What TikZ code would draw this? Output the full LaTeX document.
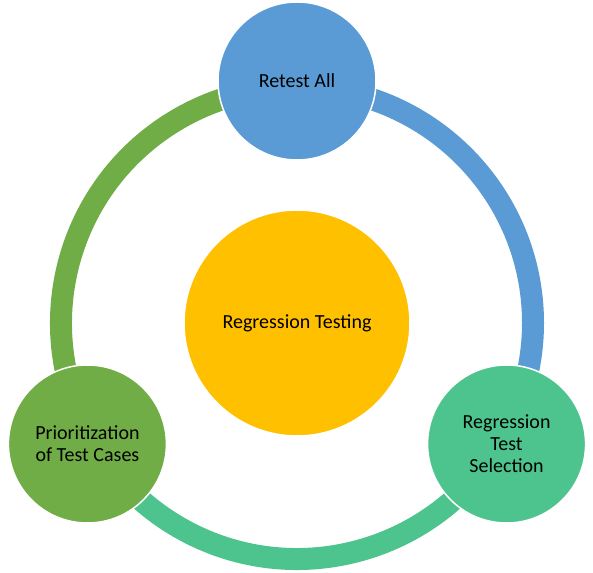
\documentclass[tikz,border=0pt]{standalone}
\usepackage{fontspec}
\setmainfont{Carlito}
\usepackage{xcolor}
\definecolor{retestblue}{HTML}{5B9BD5}
\definecolor{selectgreen}{HTML}{4DC48D}
\definecolor{priorgreen}{HTML}{70AD47}
\definecolor{coreyellow}{HTML}{FFC000}

\begin{document}
\begin{tikzpicture}[x=1pt, y=1pt,
    phase/.style={circle, draw=white, line width=1.5pt, minimum size=158pt, inner sep=0pt, align=center, font=\fontsize{20}{22}\selectfont},
    ring/.style={line width=22pt}]
            \useasboundingbox (-297,-249) rectangle (296,323);
            % Cycle ring
            \draw[ring, retestblue] (90:236) arc[start angle=90, end angle=-30, radius=236];
            \draw[ring, selectgreen] (-30:236) arc[start angle=-30, end angle=-150, radius=236];
            \draw[ring, priorgreen] (210:236) arc[start angle=210, end angle=90, radius=236];
            
            % Centre
            \node[phase, fill=coreyellow, minimum size=226pt] (core) at (0,0) {Regression Testing};
            
            % Techniques
            \node[phase, fill=retestblue] (retest) at (90:242) {Retest All};
            \node[phase, fill=selectgreen] (selection) at (-30:242) {Regression\\Test\\Selection};
            \node[phase, fill=priorgreen] (prior) at (210:242) {Prioritization\\of Test Cases};
        \end{tikzpicture}
\end{document}
